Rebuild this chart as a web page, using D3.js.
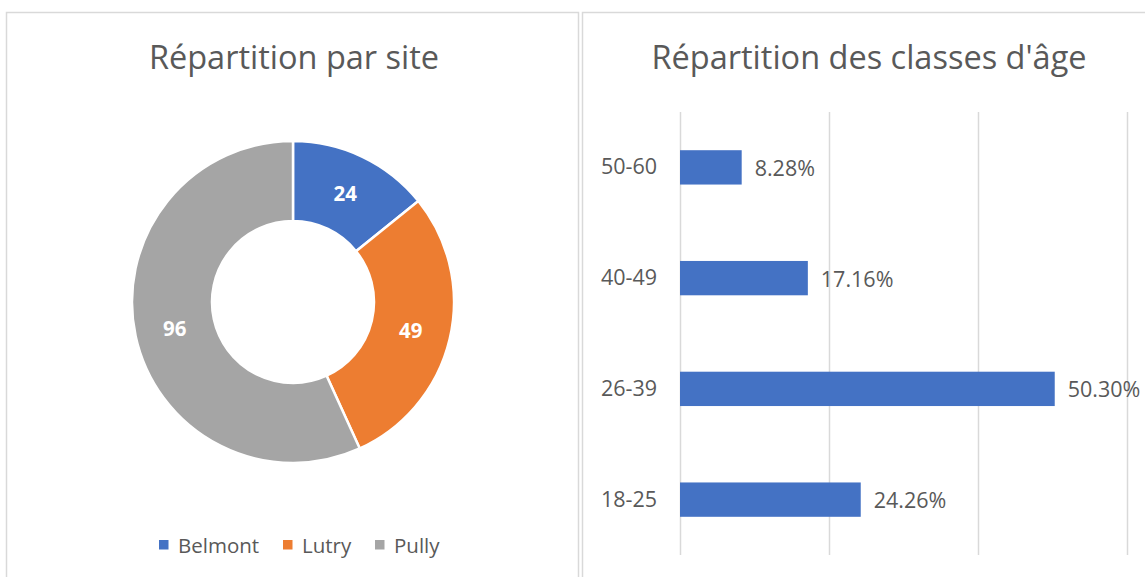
<!DOCTYPE html>
<html>
<head>
<meta charset="utf-8">
<script src="https://cdn.jsdelivr.net/npm/d3@7"></script>
<style>
  html, body { margin: 0; padding: 0; background: #fff; }
  svg { display: block; }
  text { font-family: "Open Sans", "Noto Sans", sans-serif; }
</style>
</head>
<body>
<svg id="chart" width="1145" height="577"></svg>
<script>
// ---- Data ----
const sites = ["Belmont", "Lutry", "Pully"];
const siteCounts = [24, 49, 96];
const siteColors = ["#4472C4", "#ED7D31", "#A5A5A5"];

const ageClasses = ["50-60", "40-49", "26-39", "18-25"];
const agePercents = [8.28, 17.16, 50.30, 24.26];
const ageTicks = [0, 20, 40, 60];

const titleLeft = "Répartition par site";
const titleRight = "Répartition des classes d'âge";

const svg = d3.select("#chart");
const textColor = "#595959";
const gridColor = "#D9D9D9";

// ---- Panel frames ----
svg.append("rect").attr("x", 6.5).attr("y", 12.5).attr("width", 572).attr("height", 600)
  .attr("fill", "#fff").attr("stroke", gridColor).attr("stroke-width", 1.5);
svg.append("rect").attr("x", 582.5).attr("y", 12.5).attr("width", 600).attr("height", 600)
  .attr("fill", "#fff").attr("stroke", gridColor).attr("stroke-width", 1.5);

// ---- Left: donut ----
svg.append("text").attr("x", 294).attr("y", 69).attr("text-anchor", "middle")
  .attr("font-size", 32.5).attr("fill", textColor).text(titleLeft);

const cx = 293, cy = 302, rOuter = 161, rInner = 81;
const pie = d3.pie().sort(null).value(d => d.v);
const arcs = pie(sites.map((s, i) => ({ s, v: siteCounts[i], c: siteColors[i] })));
const arc = d3.arc().innerRadius(rInner).outerRadius(rOuter);
const labelArc = d3.arc().innerRadius((rInner + rOuter) / 2).outerRadius((rInner + rOuter) / 2);

const gPie = svg.append("g").attr("transform", `translate(${cx},${cy})`);
gPie.selectAll("path").data(arcs).join("path")
  .attr("d", arc).attr("fill", d => d.data.c)
  .attr("stroke", "#fff").attr("stroke-width", 2.5);
gPie.selectAll("text").data(arcs).join("text")
  .attr("transform", d => `translate(${labelArc.centroid(d)})`)
  .attr("text-anchor", "middle").attr("dominant-baseline", "central")
  .attr("font-size", 20.5).attr("font-weight", "bold").attr("fill", "#fff")
  .text(d => d.data.v);

// Legend
const legendX = [159, 283, 375];
const gLeg = svg.append("g");
sites.forEach((s, i) => {
  gLeg.append("rect").attr("x", legendX[i]).attr("y", 540).attr("width", 9.5).attr("height", 9.5)
    .attr("fill", siteColors[i]);
  gLeg.append("text").attr("x", legendX[i] + 19).attr("y", 545)
    .attr("dominant-baseline", "central").attr("font-size", 20.5).attr("fill", textColor).text(s);
});

// ---- Right: bar chart ----
svg.append("text").attr("x", 869).attr("y", 69).attr("text-anchor", "middle")
  .attr("font-size", 32.5).attr("fill", textColor).text(titleRight);

const x = d3.scaleLinear().domain([0, 60]).range([680, 1127]);
const y = d3.scaleBand().domain(ageClasses).range([112, 555]).paddingInner(0.69).paddingOuter(0.345);

// gridlines via axis
const gridAxis = d3.axisBottom(x).tickValues(ageTicks).tickSize(-(555 - 112)).tickFormat("");
const gGrid = svg.append("g").attr("transform", "translate(0,555)").call(gridAxis);
gGrid.select(".domain").remove();
gGrid.selectAll(".tick line").attr("stroke", gridColor).attr("stroke-width", 1.5);

// category axis
const yAxis = d3.axisLeft(y).tickSize(0).tickPadding(23);
const gY = svg.append("g").attr("transform", "translate(680,0)").call(yAxis);
gY.select(".domain").remove();
gY.selectAll(".tick text").attr("font-size", 21.5).attr("fill", textColor)
  .attr("font-family", "'Open Sans', sans-serif");

const data = ageClasses.map((c, i) => ({ c, v: agePercents[i] }));
svg.append("g").selectAll("rect").data(data).join("rect")
  .attr("x", x(0)).attr("y", d => y(d.c))
  .attr("width", d => x(d.v) - x(0)).attr("height", y.bandwidth())
  .attr("fill", "#4472C4");

svg.append("g").selectAll("text").data(data).join("text")
  .attr("x", d => x(d.v) + 13).attr("y", d => y(d.c) + y.bandwidth() / 2)
  .attr("dominant-baseline", "central").attr("font-size", 21.5).attr("fill", textColor)
  .text(d => d.v.toFixed(2) + "%");
</script>
</body>
</html>
